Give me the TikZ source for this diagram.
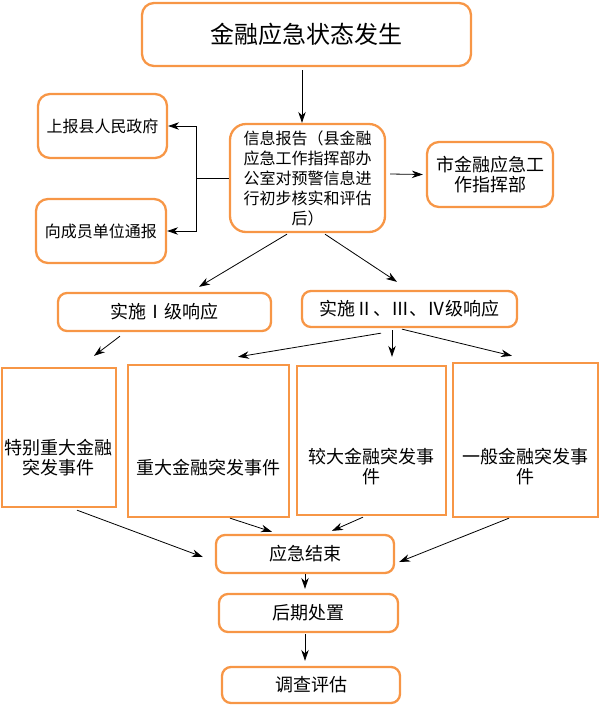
\documentclass[tikz,border=0pt]{standalone}
\usepackage{fontspec}
\setmainfont{Noto Sans CJK SC}
\usepackage{tikz}
\usetikzlibrary{arrows.meta,calc}
\definecolor{boxorange}{RGB}{247,150,70}
\tikzset{%
	box/.style={
		draw=boxorange,
		line width=2.3pt,
		rounded corners=12pt,
		inner sep=0pt,
		align=center,
		font=\fontsize{18}{20}\selectfont
	},
	box-small/.style={ font=\fontsize{16}{20}\selectfont },
	box-big/.style={ font=\fontsize{24}{28}\selectfont },
	box-square/.style={ sharp corners },
	box-text/.style={ align=center, inner sep=0pt, font=\fontsize{18}{20}\selectfont },
	flow/.style={ ->, line width=0.8pt },
}

\begin{document}
\begin{tikzpicture}[x=1pt, y=-1pt, >={Stealth[length=11pt,width=7.5pt]}]
\useasboundingbox (0,0) rectangle (599,705);

% start and report
\node[box, box-big, minimum width=329, minimum height=63] (top) at (306.5,34.5) {金融应急状态发生};
\node[box, box-small, rounded corners=16pt, minimum width=155, minimum height=108] (info) at (307.5,178)
	{信息报告（县金融\\应急工作指挥部办\\公室对预警信息进\\行初步核实和评估\\后）};
\node[box, box-small, minimum width=129, minimum height=64] (gov) at (102.5,126) {上报县人民政府};
\node[box, box-small, minimum width=130, minimum height=64] (unit) at (101,231) {向成员单位通报};
\node[box, minimum width=126, minimum height=65] (city) at (490,174.5) {市金融应急工\\作指挥部};

% response levels
\node[box, rounded corners=9pt, minimum width=213, minimum height=38] (level-1) at (164.5,312) {实施Ⅰ级响应};
\node[box, rounded corners=9pt, minimum width=215, minimum height=36] (level-2) at (409.5,309) {实施Ⅱ、Ⅲ、Ⅳ级响应};

% events
\foreach \x/\y/\w/\h [count=\i] in {59/437.5/114/139, 208.5/441/161/152, 371.5/440.5/149/149, 525.5/440/145/154}
	\node[box, box-square, minimum width=\w, minimum height=\h] (event-\i) at (\x,\y) {};
\foreach \l/\y [count=\i] in {{特别重大金融\\突发事件}/458, {重大金融突发事件}/468, {较大金融突发事\\件}/467, {一般金融突发事\\件}/467}
	\node[box-text] (event-\i-text) at (event-\i.center |- 0,\y) {\l};

% closing steps
\node[box, rounded corners=9pt, minimum width=178, minimum height=38] (finish) at (305,554) {应急结束};
\node[box, rounded corners=9pt, minimum width=179, minimum height=38] (post) at (308.5,613) {后期处置};
\node[box, rounded corners=9pt, minimum width=178, minimum height=36] (review) at (311,685) {调查评估};

% connections
\draw[flow] ($(top.south)+(-4.5,3)$) -- ($(info.north)+(-5.5,0)$);
\draw[flow] (info.west) -- ++(-32,0) |- (gov.east);
\draw[flow] (info.west) -- ++(-32,0) |- (unit.east);
\draw[flow] ($(info.east)+(4,-4)$) -- ($(city.west)+(-3,0)$);
\draw[flow] ($(info.south)+(-20.5,1)$) -- ($(level-1.north)+(34.5,-5)$);
\draw[flow] ($(info.south)+(17.5,1)$) -- ($(level-2.north)+(-12.5,-8)$);
\draw[flow] ($(level-1.south)+(-44.5,4)$) -- ($(event-1.north)+(35,-11)$);
\draw[flow] ($(level-2.south)+(-28.5,5)$) -- ($(event-2.north)+(29.5,-7)$);
\draw[flow] ($(level-2.south)+(-17.5,2)$) -- ($(event-3.north)+(20.5,-8)$);
\draw[flow] ($(level-2.south)+(-7.5,1)$) -- ($(event-4.north)+(-13.5,-6)$);
\draw[flow] ($(event-1.south)+(18,2)$) -- ($(finish.west)+(-12,3)$);
\draw[flow] ($(event-2.south)+(21.5,0)$) -- ($(finish.north)+(-33,-2)$);
\draw[flow] ($(event-3.south)+(-8.5,1)$) -- ($(finish.north)+(27,-3)$);
\draw[flow] ($(event-4.south)+(-16.5,0)$) -- ($(finish.east)+(4,8)$);
\draw[flow] (finish.south) -- ($(post.north)+(-3.5,-4)$);
\draw[flow] ($(post.south)+(-3.5,1)$) -- ($(review.north)+(-6,-5)$);

\end{tikzpicture}
\end{document}
